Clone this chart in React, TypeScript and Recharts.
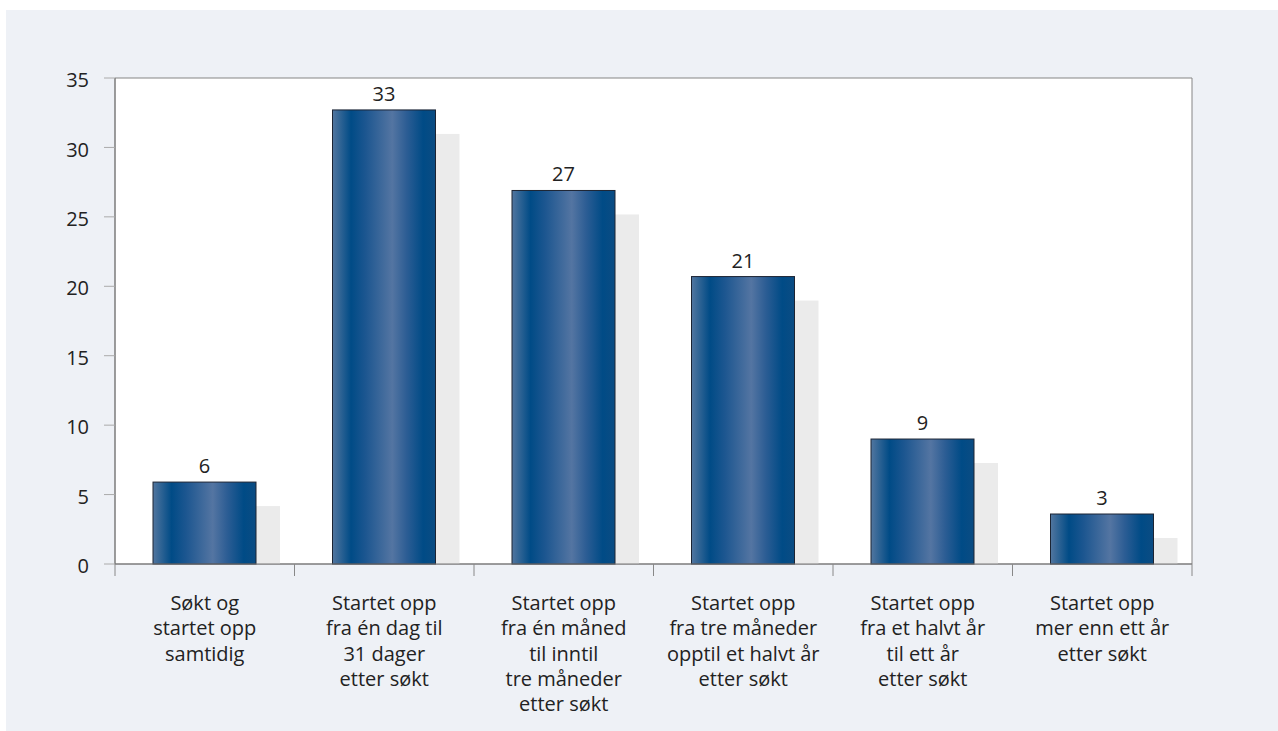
import React from 'react';
import { BarChart, Bar, XAxis, YAxis, ReferenceArea, LabelList } from 'recharts';

const categories = [
  'Søkt og\nstartet opp\nsamtidig',
  'Startet opp\nfra én dag til\n31 dager\netter søkt',
  'Startet opp\nfra én måned\ntil inntil\ntre måneder\netter søkt',
  'Startet opp\nfra tre måneder\nopptil et halvt år\netter søkt',
  'Startet opp\nfra et halvt år\ntil ett år\netter søkt',
  'Startet opp\nmer enn ett år\netter søkt',
];

const values = [5.9, 32.7, 26.9, 20.7, 9.0, 3.6];
const valueLabels = ['6', '33', '27', '21', '9', '3'];
const yTicks = [0, 5, 10, 15, 20, 25, 30, 35];

const FONT = '"Open Sans", "Noto Sans", sans-serif';
const FS = 20;

// bar with a flat grey drop shadow behind it
const ShadowBar = (props: any) => {
  const { x, y, width, height } = props;
  const off = 24;
  return (
    <g>
      <rect x={x + off} y={y + off} width={width} height={Math.max(0, height - off)} fill="#ebebeb" />
      <rect x={x} y={y} width={width} height={height} fill="url(#barGrad)" stroke="#1c2433" strokeWidth={1} />
    </g>
  );
};

const CategoryTick = (props: any) => {
  const { x, y, payload, index, visibleTicksCount, width } = props;
  const band = width && visibleTicksCount ? width / visibleTicksCount : 179.5;
  const lines = String(payload.value).split('\n');
  const left = x - band / 2;
  const right = x + band / 2;
  return (
    <g>
      <line x1={left} x2={left} y1={y} y2={y + 12} stroke="#888" />
      {index === visibleTicksCount - 1 && <line x1={right} x2={right} y1={y} y2={y + 12} stroke="#888" />}
      <text x={x} y={y + 46} textAnchor="middle" fill="#222" style={{ fontSize: FS, fontFamily: FONT }}>
        {lines.map((l, i) => (
          <tspan key={i} x={x} dy={i === 0 ? 0 : 25.3}>
            {l}
          </tspan>
        ))}
      </text>
    </g>
  );
};

export default function App() {
  const data = categories.map((c, i) => ({ name: c, value: values[i], label: valueLabels[i] }));

  return (
    <div style={{ position: 'absolute', left: 0, top: 0, width: 1278, height: 731, background: '#fff', fontFamily: FONT }}>
      <div style={{ position: 'absolute', left: 6, top: 10, right: 0, bottom: 0, background: '#eef1f6' }} />
      <div style={{ position: 'absolute', left: 0, top: 0 }}>
        <BarChart width={1278} height={731} data={data} margin={{ top: 78, right: 86, bottom: 17, left: 55 }} barSize={103}>
          <defs>
            <linearGradient id="barGrad" x1="0" y1="0" x2="1" y2="0">
              <stop offset="0%" stopColor="#52769f" />
              <stop offset="18%" stopColor="#004b86" />
              <stop offset="32%" stopColor="#1c5690" />
              <stop offset="58%" stopColor="#5475a2" />
              <stop offset="72%" stopColor="#2c5d94" />
              <stop offset="88%" stopColor="#004b86" />
              <stop offset="100%" stopColor="#0b4c83" />
            </linearGradient>
          </defs>
          <ReferenceArea y1={0} y2={35} fill="#ffffff" fillOpacity={1} stroke="#858585" strokeWidth={1} />
          <XAxis
            dataKey="name"
            height={150}
            interval={0}
            tickSize={0}
            tickMargin={0}
            tickLine={false}
            axisLine={{ stroke: '#777' }}
            tick={<CategoryTick />}
          />
          <YAxis
            width={60}
            domain={[0, 35]}
            ticks={yTicks}
            interval={0}
            tickSize={11}
            tickMargin={15}
            tickLine={{ stroke: '#aaa' }}
            axisLine={{ stroke: '#777' }}
            tick={{ fill: '#222', fontSize: FS, fontFamily: FONT, dy: 2 }}
          />
          <Bar dataKey="value" shape={<ShadowBar />} isAnimationActive={false}>
            <LabelList dataKey="label" position="top" offset={9} fill="#222" fontSize={FS} fontFamily={FONT} />
          </Bar>
        </BarChart>
      </div>
    </div>
  );
}
